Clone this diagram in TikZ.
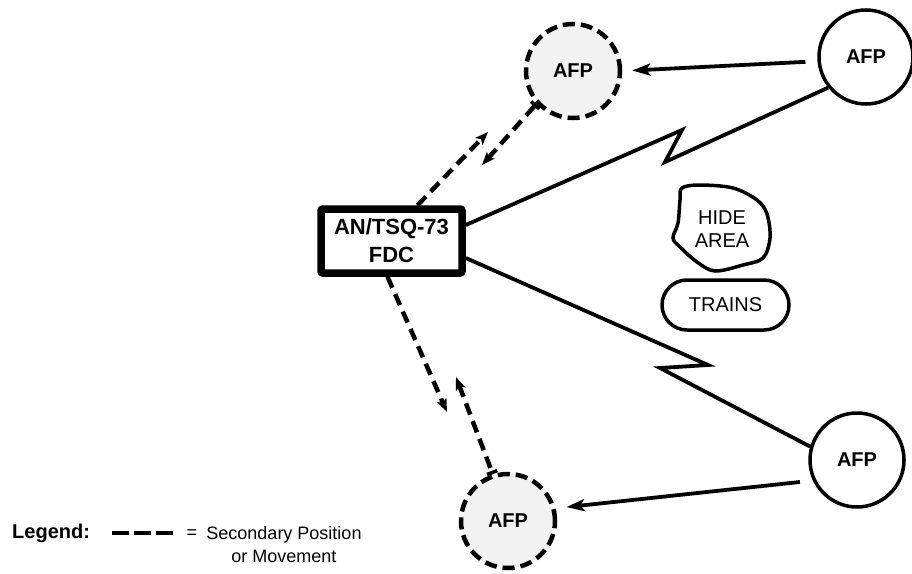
\documentclass[tikz,border=0pt]{standalone}
\usepackage{fontspec}
\setmainfont{Liberation Sans}
\usetikzlibrary{arrows.meta,calc}
\tikzset{
  sectip/.tip={Stealth[length=13pt,width=10pt,inset=3pt]},
  bartip/.tip={Bar[width=11pt,line width=3.5pt]},
}
\begin{document}
\begin{tikzpicture}[x=1pt,y=-1pt,
  afp/.style={circle, draw, line width=3.5pt, minimum size=94pt, inner sep=0pt,
    font=\bfseries\fontsize{20}{22}\selectfont},
  afpdash/.style={afp, fill=black!5, line width=4.5pt, dash pattern=on 12pt off 6pt},
  fdcbox/.style={draw, line width=7.5pt, minimum width=141pt, minimum height=64pt,
    rounded corners=2pt, align=center, inner sep=0pt,
    font=\bfseries\fontsize{22}{28}\selectfont},
  pill/.style={draw, line width=3.5pt, rounded corners=25pt, minimum width=127pt,
    minimum height=50pt, inner sep=0pt, font=\fontsize{20}{22}\selectfont},
  link/.style={line width=3.8pt, line join=miter},
  move/.style={link, -{Stealth[length=18pt,width=12pt,inset=4pt]}},
  sec/.style={line width=4.5pt, dash pattern=on 12pt off 7pt},
  lbl/.style={inner sep=0pt, font=\fontsize{18}{23}\selectfont},
]
\useasboundingbox (0,0) rectangle (912,573);

% firing positions
\node[afp]     (afpTR) at (866,57)  {AFP};
\node[afpdash] (afpT)  at (573,71)  {AFP};
\node[afp]     (afpBR) at (857,460) {AFP};
\node[afpdash] (afpB)  at (508,521) {AFP};

% fire direction center
\node[fdcbox] (fdc) at (391.5,241) {AN/TSQ-73\\FDC};

% hide area and trains
\draw[line width=3.5pt] plot[smooth cycle, tension=0.55] coordinates {
  (682,188) (700,185) (733,188) (757,200) (767,214) (770,238) (763,258)
  (743,265) (715,271) (697,262) (680,247) (673,238) (678,223) (680,200)};
\node[align=center, inner sep=0pt, font=\fontsize{20}{23}\selectfont] (hide) at (722,229) {HIDE\\AREA};
\node[pill] (trains) at (725.5,305) {TRAINS};

% radio links with lightning breaks
\coordinate (ka) at (682,130);
\coordinate (kb) at (665,162);
\draw[link] ([yshift=16pt]fdc.east) -- (ka) -- (kb) -- (afpTR.219);
\coordinate (kc) at (708,365);
\coordinate (kd) at (660,368);
\draw[link] ([yshift=-17pt]fdc.east) -- (kc) -- (kd) -- (afpBR.164);

% movement to the secondary positions
\draw[move, shorten <=12pt, shorten >=10pt] (afpTR.185) -- (afpT.east);
\draw[move, shorten <=13pt, shorten >=11pt] (afpBR.205) -- (afpB.15);

% secondary radio links
\coordinate (ta) at (488,132);
\coordinate (tb) at (482,165);
\draw[sec, -{sectip}] ([xshift=26pt]fdc.north) -- (ta);
\draw[sec, {sectip}-{bartip}] (tb) -- (afpT.222);
\coordinate (ba) at (447,412);
\coordinate (bb) at (456,377);
\draw[sec, -{sectip}] ([xshift=-4pt]fdc.south) -- (ba);
\draw[sec, {sectip}-{bartip}] (bb) -- (afpB.108);

% legend
\node[lbl, font=\bfseries\fontsize{20}{23}\selectfont, anchor=west] (leg) at (12,533) {Legend:};
\coordinate (la) at (112,533);
\coordinate (lb) at (173,533);
\draw[line width=3.5pt, dash pattern=on 17pt off 5pt] (la) -- (lb);
\node[lbl] (eq) at (192,534) {=};
\node[lbl, align=center] (legtxt) at (284,545) {Secondary Position\\or Movement};
\end{tikzpicture}
\end{document}
